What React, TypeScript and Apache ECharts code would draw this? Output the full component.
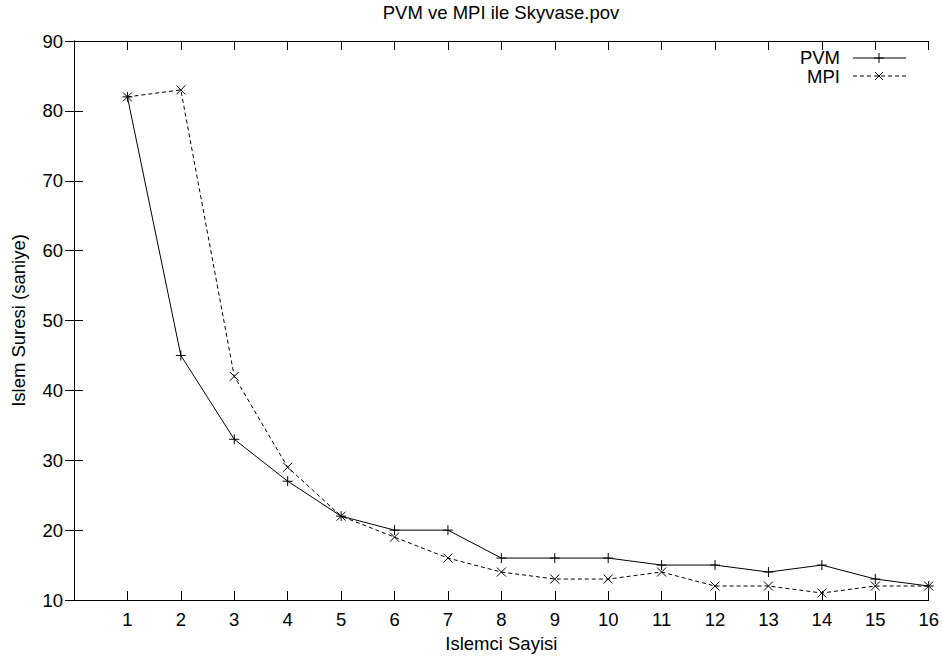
import React, { useEffect, useRef } from "react";
import * as echarts from "echarts";

const processors = [1, 2, 3, 4, 5, 6, 7, 8, 9, 10, 11, 12, 13, 14, 15, 16];
const pvmTimes = [82, 45, 33, 27, 22, 20, 20, 16, 16, 16, 15, 15, 14, 15, 13, 12];
const mpiTimes = [82, 83, 42, 29, 22, 19, 16, 14, 13, 13, 14, 12, 12, 11, 12, 12];
const seriesNames = ["PVM", "MPI"];
const titleText = "PVM ve MPI ile Skyvase.pov";
const xName = "Islemci Sayisi";
const yName = "Islem Suresi (saniye)";

const FONT = "Liberation Sans, Arial, sans-serif";
const FS = 18.5;
const PLUS = "path://M0,5L10,5M5,0L5,10";
const CROSS = "path://M0,0L10,10M10,0L0,10";

export default function App() {
  const ref = useRef<HTMLDivElement>(null);
  useEffect(() => {
    if (!ref.current) return;
    const chart = echarts.init(ref.current, null, { renderer: "svg" });
    const axisCommon = {
      axisLine: { show: true, lineStyle: { color: "#000", width: 1 } },
      axisTick: { show: true, inside: true, length: 9, lineStyle: { color: "#000" } },
      splitLine: { show: false },
    };
    const symStyle = { color: "none", borderColor: "#000", borderWidth: 1 };
    const txt = { fontFamily: FONT, fontSize: FS, color: "#000" };
    chart.setOption({
      animation: false,
      backgroundColor: "#fff",
      textStyle: { fontFamily: FONT },
      grid: { left: 74, right: 13, top: 41, bottom: 64 },
      xAxis: [
        {
          type: "value",
          min: 0,
          max: 16,
          interval: 1,
          position: "bottom",
          ...axisCommon,
          name: xName,
          nameLocation: "middle",
          nameGap: 29,
          nameTextStyle: txt,
          axisLabel: {
            ...txt,
            margin: 10,
            formatter: (v: number) => (v === 0 ? "" : String(v)),
          },
        },
        {
          type: "value",
          min: 0,
          max: 16,
          interval: 1,
          position: "top",
          ...axisCommon,
          axisLabel: { show: false },
        },
      ],
      yAxis: [
        {
          type: "value",
          min: 10,
          max: 90,
          interval: 10,
          position: "left",
          ...axisCommon,
          name: yName,
          nameLocation: "middle",
          nameGap: 46,
          nameTextStyle: txt,
          axisLabel: { ...txt, margin: 11 },
        },
        {
          type: "value",
          min: 10,
          max: 90,
          interval: 10,
          position: "right",
          ...axisCommon,
          axisLabel: { show: false },
        },
      ],
      graphic: [
        { type: "text", x: 501, y: 12, style: { text: titleText, font: `${FS}px ${FONT}`, fill: "#000", textAlign: "center", textVerticalAlign: "middle" } },
        { type: "text", x: 840, y: 57, style: { text: seriesNames[0], font: `${FS}px ${FONT}`, lineHeight: 18, fill: "#000", textAlign: "right", textVerticalAlign: "middle" } },
        { type: "line", shape: { x1: 853, y1: 58, x2: 906, y2: 58 }, style: { stroke: "#000", lineWidth: 1 } },
        { type: "line", shape: { x1: 879, y1: 53, x2: 879, y2: 63 }, style: { stroke: "#000", lineWidth: 1 } },
        { type: "line", shape: { x1: 874, y1: 58, x2: 884, y2: 58 }, style: { stroke: "#000", lineWidth: 1 } },
        { type: "text", x: 840, y: 76, style: { text: seriesNames[1], font: `${FS}px ${FONT}`, lineHeight: 18, fill: "#000", textAlign: "right", textVerticalAlign: "middle" } },
        { type: "line", shape: { x1: 853, y1: 76, x2: 906, y2: 76 }, style: { stroke: "#000", lineWidth: 1, lineDash: [4, 3] } },
        { type: "line", shape: { x1: 875, y1: 72, x2: 883, y2: 80 }, style: { stroke: "#000", lineWidth: 1 } },
        { type: "line", shape: { x1: 883, y1: 72, x2: 875, y2: 80 }, style: { stroke: "#000", lineWidth: 1 } },
      ],
      series: [
        {
          name: seriesNames[0],
          type: "line",
          data: processors.map((p, i) => [p, pvmTimes[i]]),
          symbol: PLUS,
          symbolSize: 10,
          showAllSymbol: true,
          itemStyle: symStyle,
          lineStyle: { color: "#000", width: 1, type: "solid" },
          emphasis: { disabled: true },
        },
        {
          name: seriesNames[1],
          type: "line",
          data: processors.map((p, i) => [p, mpiTimes[i]]),
          symbol: CROSS,
          symbolSize: 9,
          showAllSymbol: true,
          itemStyle: symStyle,
          lineStyle: { color: "#000", width: 1, type: [4, 3] },
          emphasis: { disabled: true },
        },
      ],
    });
    return () => chart.dispose();
  }, []);
  return <div ref={ref} style={{ position: "absolute", left: 0, top: 0, width: 942, height: 664 }} />;
}
